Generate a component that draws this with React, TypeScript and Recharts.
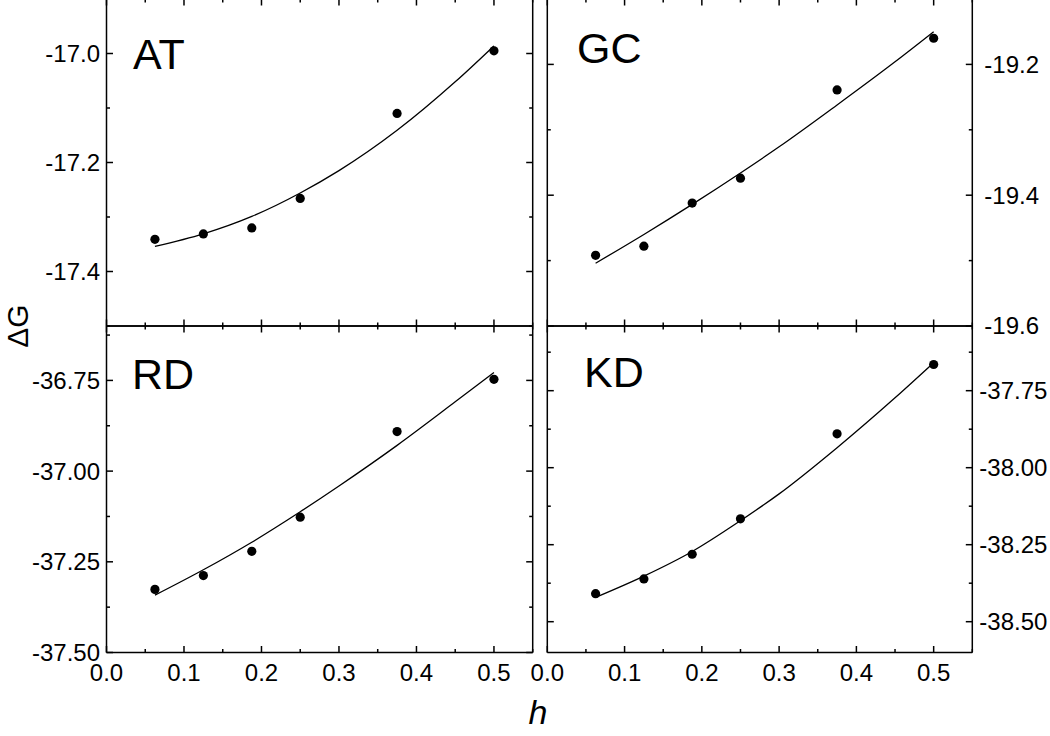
import React from 'react';
import { ComposedChart, Line, Scatter, XAxis, YAxis, Customized } from 'recharts';

// x values (h) of the measured points and of the fitted curve readings
const hValues = [0.0625, 0.125, 0.1875, 0.25, 0.375, 0.5];
const fitH = [0.0625, 0.125, 0.1875, 0.25, 0.3, 0.375, 0.45, 0.5];

// AT panel
const atPoints = [-17.341, -17.331, -17.32, -17.266, -17.11, -16.995];
const atFit = [-17.354, -17.331, -17.299, -17.256, -17.215, -17.141, -17.052, -16.986];
// GC panel
const gcPoints = [-19.492, -19.478, -19.412, -19.374, -19.239, -19.16];
const gcFit = [-19.504, -19.46, -19.414, -19.366, -19.326, -19.262, -19.196, -19.15];
// RD panel
const rdPoints = [-37.326, -37.288, -37.221, -37.127, -36.891, -36.747];
const rdFit = [-37.342, -37.272, -37.196, -37.112, -37.041, -36.929, -36.809, -36.728];
// KD panel
const kdPoints = [-38.409, -38.361, -38.281, -38.166, -37.89, -37.665];
const kdFit = [-38.421, -38.352, -38.272, -38.172, -38.085, -37.935, -37.773, -37.659];

// tick values
const xTicks = [0, 0.05, 0.1, 0.15, 0.2, 0.25, 0.3, 0.35, 0.4, 0.45, 0.5, 0.55];
const xMajors = [0, 0.1, 0.2, 0.3, 0.4, 0.5];
const atTicks = [-17.5, -17.4, -17.3, -17.2, -17.1, -17.0, -16.9];
const atMajors = [-17.4, -17.2, -17.0];
const gcTicks = [-19.6, -19.5, -19.4, -19.3, -19.2, -19.1];
const gcMajors = [-19.6, -19.4, -19.2];
const rdTicks = [-37.5, -37.375, -37.25, -37.125, -37.0, -36.875, -36.75, -36.625];
const rdMajors = [-37.5, -37.25, -37.0, -36.75];
const kdTicks = [-38.5, -38.375, -38.25, -38.125, -38.0, -37.875, -37.75, -37.625];
const kdMajors = [-38.5, -38.25, -38.0, -37.75];

const FONT = '"Liberation Sans", Arial, Helvetica, sans-serif';
const W = 1050;
const H = 736;
const MAJOR = 6.5;
const MINOR = 3.5;

const isIn = (arr: number[], v: number) => arr.some((a) => Math.abs(a - v) < 1e-6);

function makeTick(side: 'left' | 'right' | 'top' | 'bottom', majors: number[], showLabel: boolean, digits: number, gap: number) {
  return (props: any) => {
    const { x, y, payload } = props;
    const v = payload.value;
    const major = isIn(majors, v);
    const len = major ? MAJOR : MINOR;
    let x2 = x, y2 = y;
    if (side === 'left') x2 = x + len;
    if (side === 'right') x2 = x - len;
    if (side === 'bottom') y2 = y - len;
    if (side === 'top') y2 = y + len;
    let label = null;
    if (showLabel && major) {
      const txt = v.toFixed(digits);
      if (side === 'left') {
        label = <text x={x - gap} y={y} dy="0.35em" textAnchor="end" fontSize={24} fontFamily={FONT} fill="#000">{txt}</text>;
      } else if (side === 'right') {
        label = <text x={x + gap} y={y} dy="0.35em" textAnchor="start" fontSize={24} fontFamily={FONT} fill="#000">{txt}</text>;
      } else if (side === 'bottom') {
        label = <text x={x} y={y + gap} textAnchor="middle" fontSize={24} fontFamily={FONT} fill="#000">{txt}</text>;
      }
    }
    return (
      <g>
        <line x1={x} y1={y} x2={x2} y2={y2} stroke="#000" strokeWidth={1.5} />
        {label}
      </g>
    );
  };
}

type PanelProps = {
  name: string;
  points: number[];
  fit: number[];
  domain: [number, number];
  yTicks: number[];
  yMajors: number[];
  digits: number;
  box: [number, number, number, number]; // left, right, top, bottom of plot area
  labelSide: 'left' | 'right';
  labelGap: number;
  showX: boolean;
  namePos: [number, number];
};

const axisLine = { stroke: '#000', strokeWidth: 1.5 };

function Panel(p: PanelProps) {
  const [l, r, t, b] = p.box;
  const scatterData = hValues.map((h, i) => ({ x: h, y: p.points[i] }));
  const fitData = fitH.map((h, i) => ({ x: h, fit: p.fit[i] }));
  return (
    <div style={{ position: 'absolute', left: 0, top: 0, width: W, height: H }}>
      <ComposedChart width={W} height={H} margin={{ left: l - 1, right: W - r - 1, top: t - 1, bottom: H - b - 1 }}>
        <XAxis xAxisId="b" orientation="bottom" type="number" dataKey="x" domain={[0, 0.55]} ticks={xTicks}
          interval={0} height={1} tickSize={0} tickMargin={0} tickLine={false} axisLine={axisLine} allowDataOverflow
          tick={makeTick('bottom', xMajors, p.showX, 1, 28)} />
        <XAxis xAxisId="t" orientation="top" type="number" dataKey="x" domain={[0, 0.55]} ticks={xTicks}
          interval={0} height={1} tickSize={0} tickMargin={0} tickLine={false} axisLine={axisLine} allowDataOverflow
          tick={makeTick('top', xMajors, false, 1, 0)} />
        <YAxis yAxisId="l" orientation="left" type="number" domain={p.domain} ticks={p.yTicks}
          interval={0} width={1} tickSize={0} tickMargin={0} tickLine={false} axisLine={axisLine} allowDataOverflow
          tick={makeTick('left', p.yMajors, p.labelSide === 'left', p.digits, p.labelGap)} />
        <YAxis yAxisId="r" orientation="right" type="number" domain={p.domain} ticks={p.yTicks}
          interval={0} width={1} tickSize={0} tickMargin={0} tickLine={false} axisLine={axisLine} allowDataOverflow
          tick={makeTick('right', p.yMajors, p.labelSide === 'right', p.digits, p.labelGap)} />
        <Line xAxisId="b" yAxisId="l" data={fitData} dataKey="fit" type="monotone" dot={false} activeDot={false}
          stroke="#000" strokeWidth={1.3} isAnimationActive={false} />
        <Scatter xAxisId="b" yAxisId="l" data={scatterData} dataKey="y" isAnimationActive={false}
          shape={(s: any) => <circle cx={s.cx} cy={s.cy} r={4.6} fill="#000" />} />
        <Customized component={() => (
          <text x={p.namePos[0]} y={p.namePos[1]} fontSize={43} fontFamily={FONT} fill="#000">{p.name}</text>
        )} />
      </ComposedChart>
    </div>
  );
}

export default function App() {
  const L1 = 106.5, R1 = 532.7, L2 = 547.3, R2 = 972.3;
  const T1 = -1, M = 326, B2 = 652.5;
  return (
    <div style={{ position: 'absolute', left: 0, top: 0, width: W, height: H, background: '#fff', overflow: 'hidden' }}>
      <Panel name="AT" points={atPoints} fit={atFit} domain={[-17.5, -16.9]} yTicks={atTicks} yMajors={atMajors}
        digits={1} box={[L1, R1, T1, M]} labelSide="left" labelGap={6.5} showX={false} namePos={[133, 69]} />
      <Panel name="GC" points={gcPoints} fit={gcFit} domain={[-19.6, -19.1]} yTicks={gcTicks} yMajors={gcMajors}
        digits={1} box={[L2, R2, T1, M]} labelSide="right" labelGap={12} showX={false} namePos={[577, 63]} />
      <Panel name="RD" points={rdPoints} fit={rdFit} domain={[-37.5, -36.6]} yTicks={rdTicks} yMajors={rdMajors}
        digits={2} box={[L1, R1, M, B2]} labelSide="left" labelGap={6.5} showX={true} namePos={[132, 389]} />
      <Panel name="KD" points={kdPoints} fit={kdFit} domain={[-38.6, -37.54]} yTicks={kdTicks} yMajors={kdMajors}
        digits={2} box={[L2, R2, M, B2]} labelSide="right" labelGap={7} showX={true} namePos={[584, 387]} />
      <svg width={W} height={H} style={{ position: 'absolute', left: 0, top: 0, pointerEvents: 'none' }}>
        <text x={0} y={0} transform="translate(28, 326) rotate(-90)" textAnchor="middle" fontSize={30} fontFamily={FONT} fill="#000">ΔG</text>
        <text x={538} y={724} textAnchor="middle" fontSize={34} fontStyle="italic" fontFamily={FONT} fill="#000">h</text>
      </svg>
    </div>
  );
}
